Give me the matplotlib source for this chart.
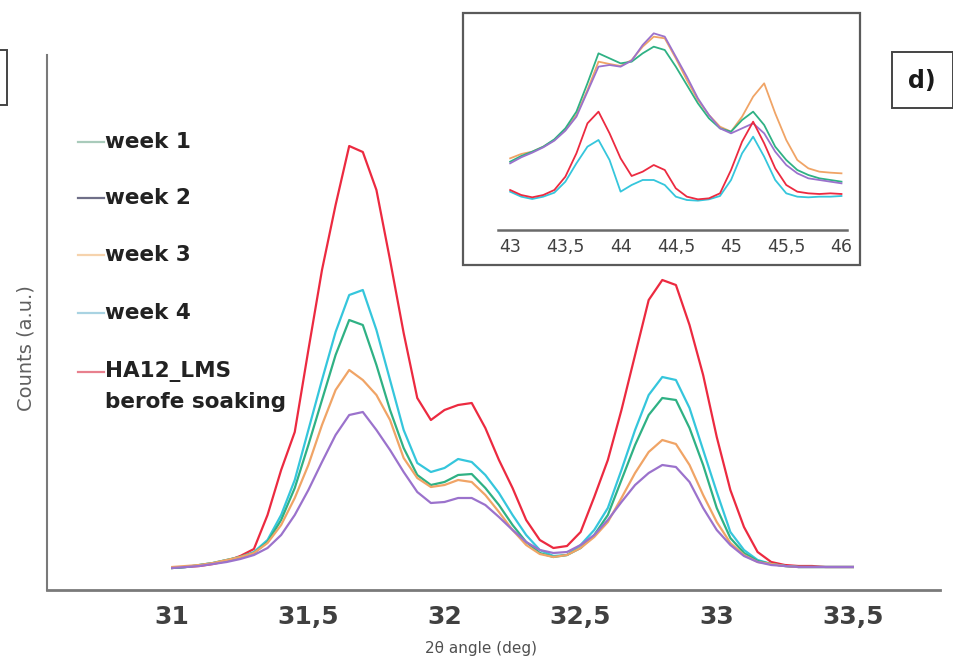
import numpy as np
import matplotlib
matplotlib.use("Agg")
import matplotlib.pyplot as plt
from matplotlib.lines import Line2D
from matplotlib.patches import Rectangle

# main pattern: 2theta from 31 to 33.5, step 0.05
two_theta = np.round(np.arange(31.0, 33.5001, 0.05), 2)

week1 = [2, 3, 5, 7, 10, 13, 17, 28, 50, 82, 125, 170, 215, 250, 245, 205, 160, 122, 95, 85,
         88, 95, 96, 82, 65, 45, 28, 17, 13, 15, 22, 35, 55, 90, 125, 155, 172, 170, 142, 105,
         62, 32, 17, 9, 6, 4, 3, 3, 3, 3, 3]
week2 = [2, 3, 4, 6, 8, 11, 15, 22, 35, 55, 80, 108, 135, 155, 158, 140, 120, 98, 78, 67,
         68, 72, 72, 65, 53, 40, 28, 20, 17, 18, 25, 35, 50, 68, 85, 97, 105, 103, 88, 62,
         40, 25, 14, 8, 5, 4, 3, 3, 3, 3, 3]
week3 = [3, 4, 5, 7, 10, 13, 17, 27, 45, 72, 105, 145, 180, 200, 190, 175, 150, 112, 92, 83,
         85, 90, 88, 75, 58, 40, 25, 16, 13, 15, 22, 33, 48, 72, 97, 118, 130, 126, 105, 75,
         48, 27, 15, 8, 6, 4, 3, 3, 3, 3, 3]
week4 = [2, 3, 5, 7, 10, 13, 18, 30, 55, 90, 140, 190, 238, 275, 280, 240, 190, 140, 107, 98,
         102, 111, 108, 95, 77, 55, 35, 20, 14, 15, 25, 40, 62, 100, 140, 175, 193, 190, 162, 120,
         78, 38, 20, 10, 6, 4, 3, 3, 3, 3, 3]
before = [2, 3, 4, 6, 9, 14, 21, 55, 100, 138, 220, 300, 365, 424, 418, 380, 310, 237, 172, 150,
          160, 165, 167, 142, 110, 82, 50, 30, 22, 24, 38, 73, 110, 160, 215, 270, 290, 285, 245, 195,
          133, 80, 43, 18, 8, 5, 4, 4, 3, 3, 3]

# inset: 2theta 43 to 46, step 0.1
inset_theta = np.round(np.arange(43.0, 46.0001, 0.1), 1)
in_week1 = [205, 222, 235, 250, 272, 305, 355, 440, 530, 515, 500, 505, 530, 550, 540, 490,
            435, 380, 335, 305, 295, 330, 355, 315, 250, 210, 180, 165, 155, 150, 145]
in_week2 = [200, 218, 232, 248, 268, 298, 340, 415, 490, 495, 490, 508, 555, 590, 580, 520,
            460, 395, 345, 305, 290, 305, 320, 290, 235, 195, 170, 155, 150, 145, 140]
in_week3 = [215, 228, 235, 250, 270, 300, 345, 420, 505, 498, 492, 510, 550, 580, 575, 515,
            450, 390, 345, 310, 295, 340, 400, 440, 350, 270, 210, 185, 175, 172, 170]
in_week4 = [115, 100, 93, 100, 112, 145, 200, 250, 270, 210, 115, 135, 150, 150, 135, 100,
            90, 88, 92, 102, 150, 230, 280, 220, 150, 110, 100, 98, 100, 100, 102]
in_before = [120, 105, 98, 105, 120, 160, 230, 320, 355, 290, 215, 162, 175, 195, 180, 125,
             100, 92, 95, 110, 180, 265, 325, 260, 185, 135, 115, 110, 108, 110, 108]

main_ticks = [31, 31.5, 32, 32.5, 33, 33.5]
main_ticklabels = ["31", "31,5", "32", "32,5", "33", "33,5"]
inset_ticks = [43, 43.5, 44, 44.5, 45, 45.5, 46]
inset_ticklabels = ["43", "43,5", "44", "44,5", "45", "45,5", "46"]
legend_labels = ["week 1", "week 2", "week 3", "week 4", "HA12_LMS\nberofe soaking"]

c_w1, c_w2, c_w3, c_w4, c_b = "#2fb184", "#9b72cc", "#f0a466", "#35c6dc", "#ec2a40"
legend_cols = ["#a9cbbb", "#6f6f88", "#f6d3ad", "#a9d3e2", "#e8808e"]

W, H = 954, 668
fig = plt.figure(figsize=(W / 100, H / 100), dpi=100)


def fbox(x0, y0, x1, y1):
    # pixel box (top-left origin) -> figure fraction [left, bottom, width, height]
    return [x0 / W, 1 - y1 / H, (x1 - x0) / W, (y1 - y0) / H]


ax = fig.add_axes(fbox(47, 55, 940, 590))
for y, c in [(before, c_b), (week4, c_w4), (week1, c_w1), (week3, c_w3), (week2, c_w2)]:
    ax.plot(two_theta, y, color=c, lw=1.6)
ax.set_xlim(30.54, 33.82)
ax.set_ylim(-20, 515)
ax.set_xticks(main_ticks)
ax.set_xticklabels(main_ticklabels)
ax.set_yticks([])
ax.tick_params(axis="x", length=0, pad=11, labelsize=18, labelcolor="#404040")
for t in ax.get_xticklabels():
    t.set_fontweight("bold")
for s in ["top", "right"]:
    ax.spines[s].set_visible(False)
ax.spines["left"].set_color("#7a7a7a")
ax.spines["left"].set_linewidth(1.5)
ax.spines["bottom"].set_color("#7a7a7a")
ax.spines["bottom"].set_linewidth(2)
ax.set_xlabel("2θ angle (deg)", fontsize=11, color="#505050")
ax.xaxis.set_label_coords((481 - 47) / 893, -(648 - 590) / 535, transform=ax.transAxes)
ax.xaxis.label.set_va("center")
ax.set_ylabel("Counts (a.u.)", fontsize=14, color="#606060")
ax.yaxis.set_label_coords(-(47 - 26) / 893, (590 - 348) / 535, transform=ax.transAxes)
ax.yaxis.label.set_va("center")

# legend drawn by hand (entries are widely spaced)
leg_y = [142, 198, 255, 313, 372]
for lab, col, yy in zip(legend_labels, legend_cols, leg_y):
    fig.add_artist(Line2D([78 / W, 104 / W], [1 - yy / H, 1 - yy / H], color=col, lw=1.6))
    for k, part in enumerate(lab.split("\n")):
        fig.text(105 / W, 1 - (yy + 30 * k) / H, part, fontsize=15.5, fontweight="bold",
                 color="#222222", va="center", ha="left")

# inset with the 43-46 region
fig.add_artist(Rectangle((463 / W, 1 - 265 / H), (860 - 463) / W, (265 - 13) / H,
                         transform=fig.transFigure, fill=False, ec="#5a5a5a", lw=1.6))
ins = fig.add_axes(fbox(498, 20, 847, 230))
for y, c in [(in_week3, c_w3), (in_week1, c_w1), (in_week2, c_w2), (in_week4, c_w4), (in_before, c_b)]:
    ins.plot(inset_theta, y, color=c, lw=1.3)
ins.set_xlim(42.89, 46.05)
ins.set_ylim(0, 630)
ins.set_xticks(inset_ticks)
ins.set_xticklabels(inset_ticklabels)
ins.set_yticks([])
ins.tick_params(axis="x", length=0, pad=6, labelsize=12.5, labelcolor="#404040")
for s in ["top", "right", "left"]:
    ins.spines[s].set_visible(False)
ins.spines["bottom"].set_color("#6a6a6a")
ins.spines["bottom"].set_linewidth(1.8)
ins.patch.set_alpha(0)

# panel label boxes
fig.add_artist(Rectangle((892 / W, 1 - 108 / H), (953 - 892) / W, (108 - 52) / H,
                         transform=fig.transFigure, fill=False, ec="#444444", lw=1.4))
fig.text(922 / W, 1 - 81 / H, "d)", fontsize=17, fontweight="bold", color="#1a1a1a",
         ha="center", va="center")
fig.add_artist(Rectangle((-10 / W, 1 - 105 / H), 17 / W, (105 - 50) / H,
                         transform=fig.transFigure, fill=False, ec="#444444", lw=1.4))

fig.savefig("out.png", dpi=100)
